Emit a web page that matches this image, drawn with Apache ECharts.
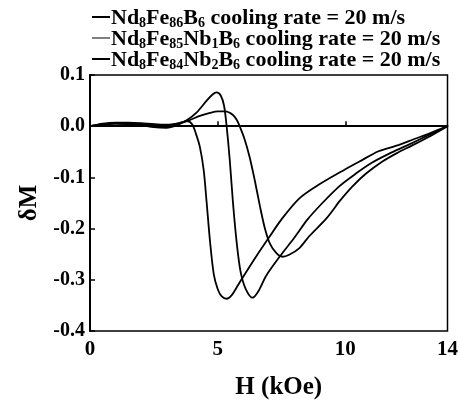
<!DOCTYPE html>
<html>
<head>
<meta charset="utf-8">
<script src="https://cdn.jsdelivr.net/npm/echarts@6/dist/echarts.min.js"></script>
<style>
html,body{margin:0;padding:0;background:#fff;}
#chart{width:461px;height:405px;}
</style>
</head>
<body>
<div id="chart"></div>
<script>
// ---- data ----
const seriesNames = ['Nd8Fe86B6', 'Nd8Fe85Nb1B6', 'Nd8Fe84Nb2B6'];
const legendParts = [
  [['Nd','8'],['Fe','86'],['B','6']],
  [['Nd','8'],['Fe','85'],['Nb','1'],['B','6']],
  [['Nd','8'],['Fe','84'],['Nb','2'],['B','6']]
];
const legendSuffix = ' cooling rate = 20 m/s';

const h1  = [0, 0.5, 1.0, 1.5, 2.0, 2.5, 3.0, 3.5, 3.8, 4.0, 4.15, 4.3, 4.45, 4.57, 4.7, 4.85, 5.0, 5.15, 5.35, 5.55, 5.8, 6.05, 6.5, 7.0, 7.5, 8.2, 9.0, 10.0, 10.55, 11.3, 12.0, 12.7, 13.3, 14.0];
const dm1 = [0, 0.005, 0.007, 0.007, 0.006, 0.004, 0.003, 0.006, 0.010, 0.004, -0.015, -0.040, -0.085, -0.150, -0.225, -0.290, -0.318, -0.332, -0.337, -0.330, -0.310, -0.290, -0.255, -0.218, -0.182, -0.141, -0.113, -0.084, -0.069, -0.049, -0.038, -0.025, -0.014, 0.000];

const h2  = [0, 0.5, 1.0, 1.5, 2.0, 2.5, 3.0, 3.4, 3.8, 4.18, 4.57, 4.8, 4.96, 5.12, 5.25, 5.35, 5.47, 5.6, 5.75, 5.9, 6.1, 6.37, 6.6, 6.9, 7.5, 8.0, 8.52, 9.1, 9.77, 10.4, 11.05, 11.7, 12.4, 13.2, 14.0];
const dm2 = [0, 0.004, 0.005, 0.004, 0.002, -0.002, -0.003, 0.002, 0.012, 0.027, 0.050, 0.062, 0.066, 0.060, 0.040, 0.000, -0.064, -0.150, -0.230, -0.285, -0.318, -0.335, -0.322, -0.292, -0.250, -0.218, -0.182, -0.150, -0.117, -0.093, -0.071, -0.054, -0.038, -0.019, 0.000];

const h3  = [0, 0.5, 1.0, 2.0, 3.0, 3.5, 3.9, 4.3, 4.7, 5.0, 5.3, 5.6, 5.75, 5.86, 6.05, 6.25, 6.45, 6.65, 6.85, 7.05, 7.3, 7.54, 7.8, 8.2, 8.6, 9.26, 9.8, 10.27, 10.8, 11.45, 12.0, 12.6, 13.3, 14.0];
const dm3 = [0, 0.003, 0.005, 0.004, 0.002, 0.006, 0.012, 0.020, 0.026, 0.029, 0.029, 0.022, 0.012, 0.000, -0.025, -0.060, -0.105, -0.155, -0.200, -0.230, -0.248, -0.255, -0.251, -0.238, -0.214, -0.180, -0.145, -0.118, -0.093, -0.069, -0.053, -0.038, -0.020, 0.000];

const xTickLabels = [0, 5, 10, 14];
const xTicks = [0, 5, 10];
const yMin = -0.4, yMax = 0.1, yStep = 0.1;
const xName = 'H (kOe)';
const yName = 'δM';

// ---- build ----
const FONT = '"Liberation Serif", "Times New Roman", serif';
const zip = (xs, ys) => xs.map((x, i) => [x, ys[i]]);
const legendWidths = [2, 1, 2];
const legendRowY = [17, 38, 59];

function legendText(idx) {
  return legendParts[idx].map(p => '{m|' + p[0] + '}{s|' + p[1] + '}').join('') + '{m|' + legendSuffix + '}';
}

const richStyle = {
  m: { fontFamily: FONT, fontWeight: 'bold', fontSize: 22, fill: '#000', lineHeight: 21 },
  s: { fontFamily: FONT, fontWeight: 'bold', fontSize: 14, fill: '#000', padding: [10, 0, 0, 0] }
};

const graphics = [];
seriesNames.forEach((n, i) => {
  graphics.push({
    type: 'line', silent: true,
    shape: { x1: 92, y1: legendRowY[i], x2: 110, y2: legendRowY[i] },
    style: { stroke: '#000', lineWidth: legendWidths[i] }
  });
  graphics.push({
    type: 'text', silent: true,
    x: 111, y: legendRowY[i] + 1,
    style: { text: legendText(i), rich: richStyle, verticalAlign: 'middle', align: 'left', fill: '#000',
      font: 'bold 22px ' + FONT }
  });
});

const lineSeries = [zip(h1, dm1), zip(h2, dm2), zip(h3, dm3)].map((d, i) => ({
  name: seriesNames[i],
  type: 'line',
  data: d,
  smooth: 0.3,
  symbol: 'none',
  lineStyle: { color: '#000', width: 1.8 },
  itemStyle: { color: '#000' },
  z: 3
}));
lineSeries[0].markLine = {
  silent: true,
  symbol: 'none',
  label: { show: false },
  lineStyle: { color: '#000', width: 1.5, type: 'solid' },
  data: [{ yAxis: 0 }]
};

const option = {
  backgroundColor: '#fff',
  animation: false,
  graphic: graphics,
  grid: {
    left: 90, right: 11, top: 75, bottom: 71,
    show: true, borderColor: '#000', borderWidth: 1.5, backgroundColor: 'transparent'
  },
  xAxis: {
    type: 'value', min: 0, max: 14, interval: 5,
    name: xName, nameLocation: 'middle', nameGap: 44,
    nameTextStyle: { fontFamily: FONT, fontWeight: 'bold', fontSize: 25, color: '#000', padding: [0, 0, 0, 20] },
    axisLine: { show: true, lineStyle: { color: '#000', width: 2 } },
    axisTick: { show: true, inside: true, length: 5, customValues: xTicks, lineStyle: { color: '#000', width: 1.5 } },
    axisLabel: { customValues: xTickLabels, margin: 8, fontFamily: FONT, fontWeight: 'bold', fontSize: 21, color: '#000' },
    splitLine: { show: false }
  },
  yAxis: {
    type: 'value', min: yMin, max: yMax, interval: yStep,
    name: yName, nameLocation: 'middle', nameGap: 48, nameRotate: 90,
    nameTextStyle: { fontFamily: FONT, fontWeight: 'bold', fontSize: 25, color: '#000' },
    axisLine: { show: true, lineStyle: { color: '#000', width: 2 } },
    axisTick: { show: true, inside: true, length: 5, lineStyle: { color: '#000', width: 1.5 } },
    axisLabel: { margin: 5, fontFamily: FONT, fontWeight: 'bold', fontSize: 20, color: '#000',
      formatter: v => (Math.round(v * 10) / 10).toFixed(1) },
    splitLine: { show: false }
  },
  series: lineSeries
};

const chart = echarts.init(document.getElementById('chart'), null, { renderer: 'canvas' });
chart.setOption(option);
</script>
</body>
</html>
